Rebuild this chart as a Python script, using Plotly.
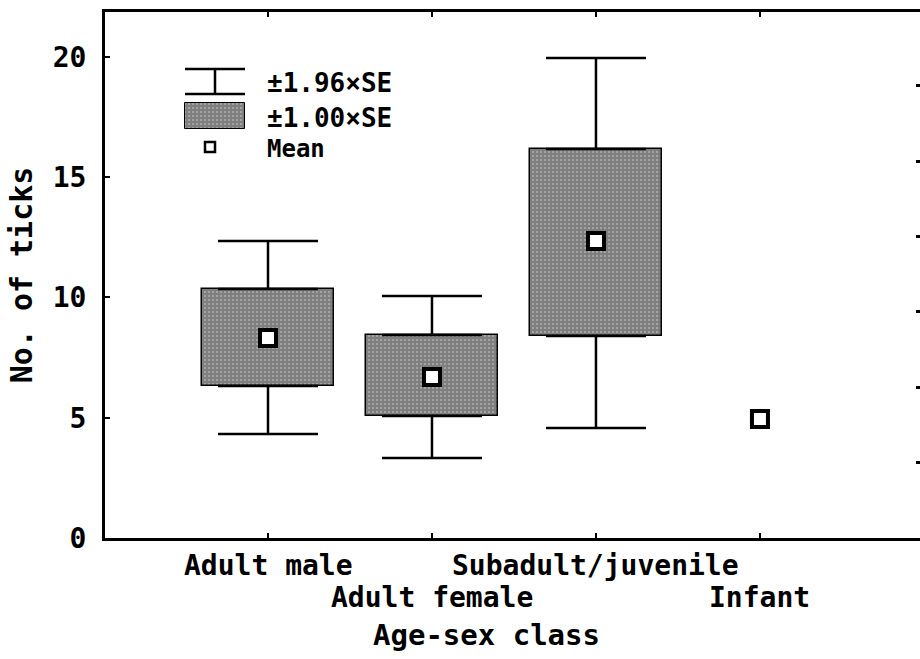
import plotly.graph_objects as go

# ---- data ----
categories = ["Adult male", "Adult female", "Subadult/juvenile", "Infant"]
positions = [1, 2, 3, 4]
label_row = [0, 1, 0, 1]
mean_ticks = [8.32, 6.69, 12.35, 4.95]
se1_low = [6.32, 5.07, 8.40, None]
se1_high = [10.35, 8.44, 16.17, None]
ci_low = [4.32, 3.33, 4.57, None]
ci_high = [12.35, 10.06, 19.96, None]
y_ticks = [0, 5, 10, 15, 20]
legend_labels = ["\u00b11.96\u00d7SE", "\u00b11.00\u00d7SE", "Mean"]

FONT = "DejaVu Sans Mono"

fig = go.Figure()

# boxes (+-1 SE)
box_pos = [p for p, lo in zip(positions, se1_low) if lo is not None]
box_lo = [lo for lo in se1_low if lo is not None]
box_hi = [hi for hi in se1_high if hi is not None]
PATTERN = dict(shape="+", fgcolor="black", bgcolor="white", size=4, solidity=0.92)
fig.add_trace(go.Bar(
    x=box_pos, base=box_lo, y=[h - l for h, l in zip(box_hi, box_lo)],
    width=0.805,
    marker=dict(color="white", line=dict(color="black", width=1.5), pattern=PATTERN),
    showlegend=False, hoverinfo="skip"))

# whiskers (+-1.96 SE), drawn from box edges outward
ci_lo_v = [c for c in ci_low if c is not None]
ci_hi_v = [c for c in ci_high if c is not None]
fig.add_trace(go.Scatter(
    x=box_pos, y=box_hi, mode="markers", marker=dict(opacity=0, size=1),
    error_y=dict(type="data", symmetric=False,
                 array=[c - h for c, h in zip(ci_hi_v, box_hi)],
                 arrayminus=[0] * len(box_hi),
                 color="black", thickness=2.5, width=50),
    showlegend=False, hoverinfo="skip"))
fig.add_trace(go.Scatter(
    x=box_pos, y=box_lo, mode="markers", marker=dict(opacity=0, size=1),
    error_y=dict(type="data", symmetric=False,
                 array=[0] * len(box_lo),
                 arrayminus=[l - c for l, c in zip(box_lo, ci_lo_v)],
                 color="black", thickness=2.5, width=50),
    showlegend=False, hoverinfo="skip"))

# means
fig.add_trace(go.Scatter(
    x=positions, y=mean_ticks, mode="markers",
    marker=dict(symbol="square", size=16, color="white",
                line=dict(color="black", width=4)),
    showlegend=False, hoverinfo="skip"))

# right-side stray tick marks (secondary scale); invisible anchor point
fig.add_trace(go.Scatter(x=[1], y=[1], yaxis="y2", mode="markers",
                         marker=dict(opacity=0, size=1),
                         showlegend=False, hoverinfo="skip"))

# ---- manual legend on an overlay axis (0..1 units of plot area) ----
W, H = 815.0, 526.0
leg_x = 110 / W
fig.add_trace(go.Scatter(
    x=[leg_x], y=[456.5 / H], mode="markers", marker=dict(opacity=0, size=1),
    error_y=dict(type="data", symmetric=True, array=[12.5 / H],
                 color="black", thickness=2.5, width=30),
    xaxis="x3", yaxis="y3", showlegend=False, hoverinfo="skip"))
fig.add_trace(go.Bar(
    x=[leg_x], base=[409 / H], y=[26 / H], width=60 / W,
    marker=dict(color="white", line=dict(color="black", width=1), pattern=PATTERN),
    xaxis="x3", yaxis="y3", showlegend=False, hoverinfo="skip"))
fig.add_trace(go.Scatter(
    x=[leg_x - 5 / W], y=[391 / H], mode="markers",
    marker=dict(symbol="square", size=10, color="white",
                line=dict(color="black", width=2.5)),
    xaxis="x3", yaxis="y3", showlegend=False, hoverinfo="skip"))

annotations = []
for txt, py, fs in zip(legend_labels, [455, 420, 389], [26, 26, 24]):
    annotations.append(dict(
        x=160 / W, y=py / H, xref="x3", yref="y3", text=txt, showarrow=False,
        xanchor="left", yanchor="middle",
        font=dict(family=FONT, size=fs, color="black", weight="bold")))

# category labels, staggered in two rows
for name, pos, row in zip(categories, positions, label_row):
    annotations.append(dict(
        x=pos, y=[-27 / H, -59 / H][row], xref="x", yref="paper", text=name,
        showarrow=False, xanchor="center", yanchor="middle",
        font=dict(family=FONT, size=28, color="black", weight="bold")))

annotations.append(dict(
    x=(486 - 105) / W, y=-97 / H, xref="paper", yref="paper",
    text="Age-sex class", showarrow=False, xanchor="center", yanchor="middle",
    font=dict(family=FONT, size=29, color="black", weight="bold")))

fig.update_layout(
    width=920, height=659,
    margin=dict(l=105, r=0, t=12, b=121),
    paper_bgcolor="white", plot_bgcolor="white",
    font=dict(family=FONT, color="black", weight="bold"),
    bargap=0,
    xaxis=dict(range=[0.006, 4.976], tickvals=positions,
               ticktext=[""] * len(positions),
               ticks="inside", ticklen=5, tickwidth=2, tickcolor="black",
               showline=True, linecolor="black", linewidth=3, mirror="ticks",
               showgrid=False, zeroline=False, fixedrange=True),
    yaxis=dict(range=[0, 21.87], tickvals=y_ticks,
               ticks="inside", ticklen=5, tickwidth=2, tickcolor="black",
               showline=True, linecolor="black", linewidth=3,
               showgrid=False, zeroline=False,
               tickfont=dict(family=FONT, size=28, weight="bold"),
               ticklabelstandoff=10,
               title=dict(text="No. of ticks", standoff=12,
                          font=dict(family=FONT, size=30, weight="bold"))),
    yaxis2=dict(overlaying="y", side="right", range=[0, 6.98],
                tickvals=[1, 2, 3, 4, 5, 6], ticks="inside", ticklen=4,
                tickwidth=3, tickcolor="black", showticklabels=False,
                showline=False, showgrid=False, zeroline=False),
    xaxis3=dict(overlaying="x", range=[0, 1], visible=False),
    yaxis3=dict(overlaying="y", range=[0, 1], visible=False),
    annotations=annotations,
)

# remove the page's default body margin so the figure sits at the window origin
fig.write_html("out.html", config={"displayModeBar": False},
               post_script="document.body.style.margin='0px';")
